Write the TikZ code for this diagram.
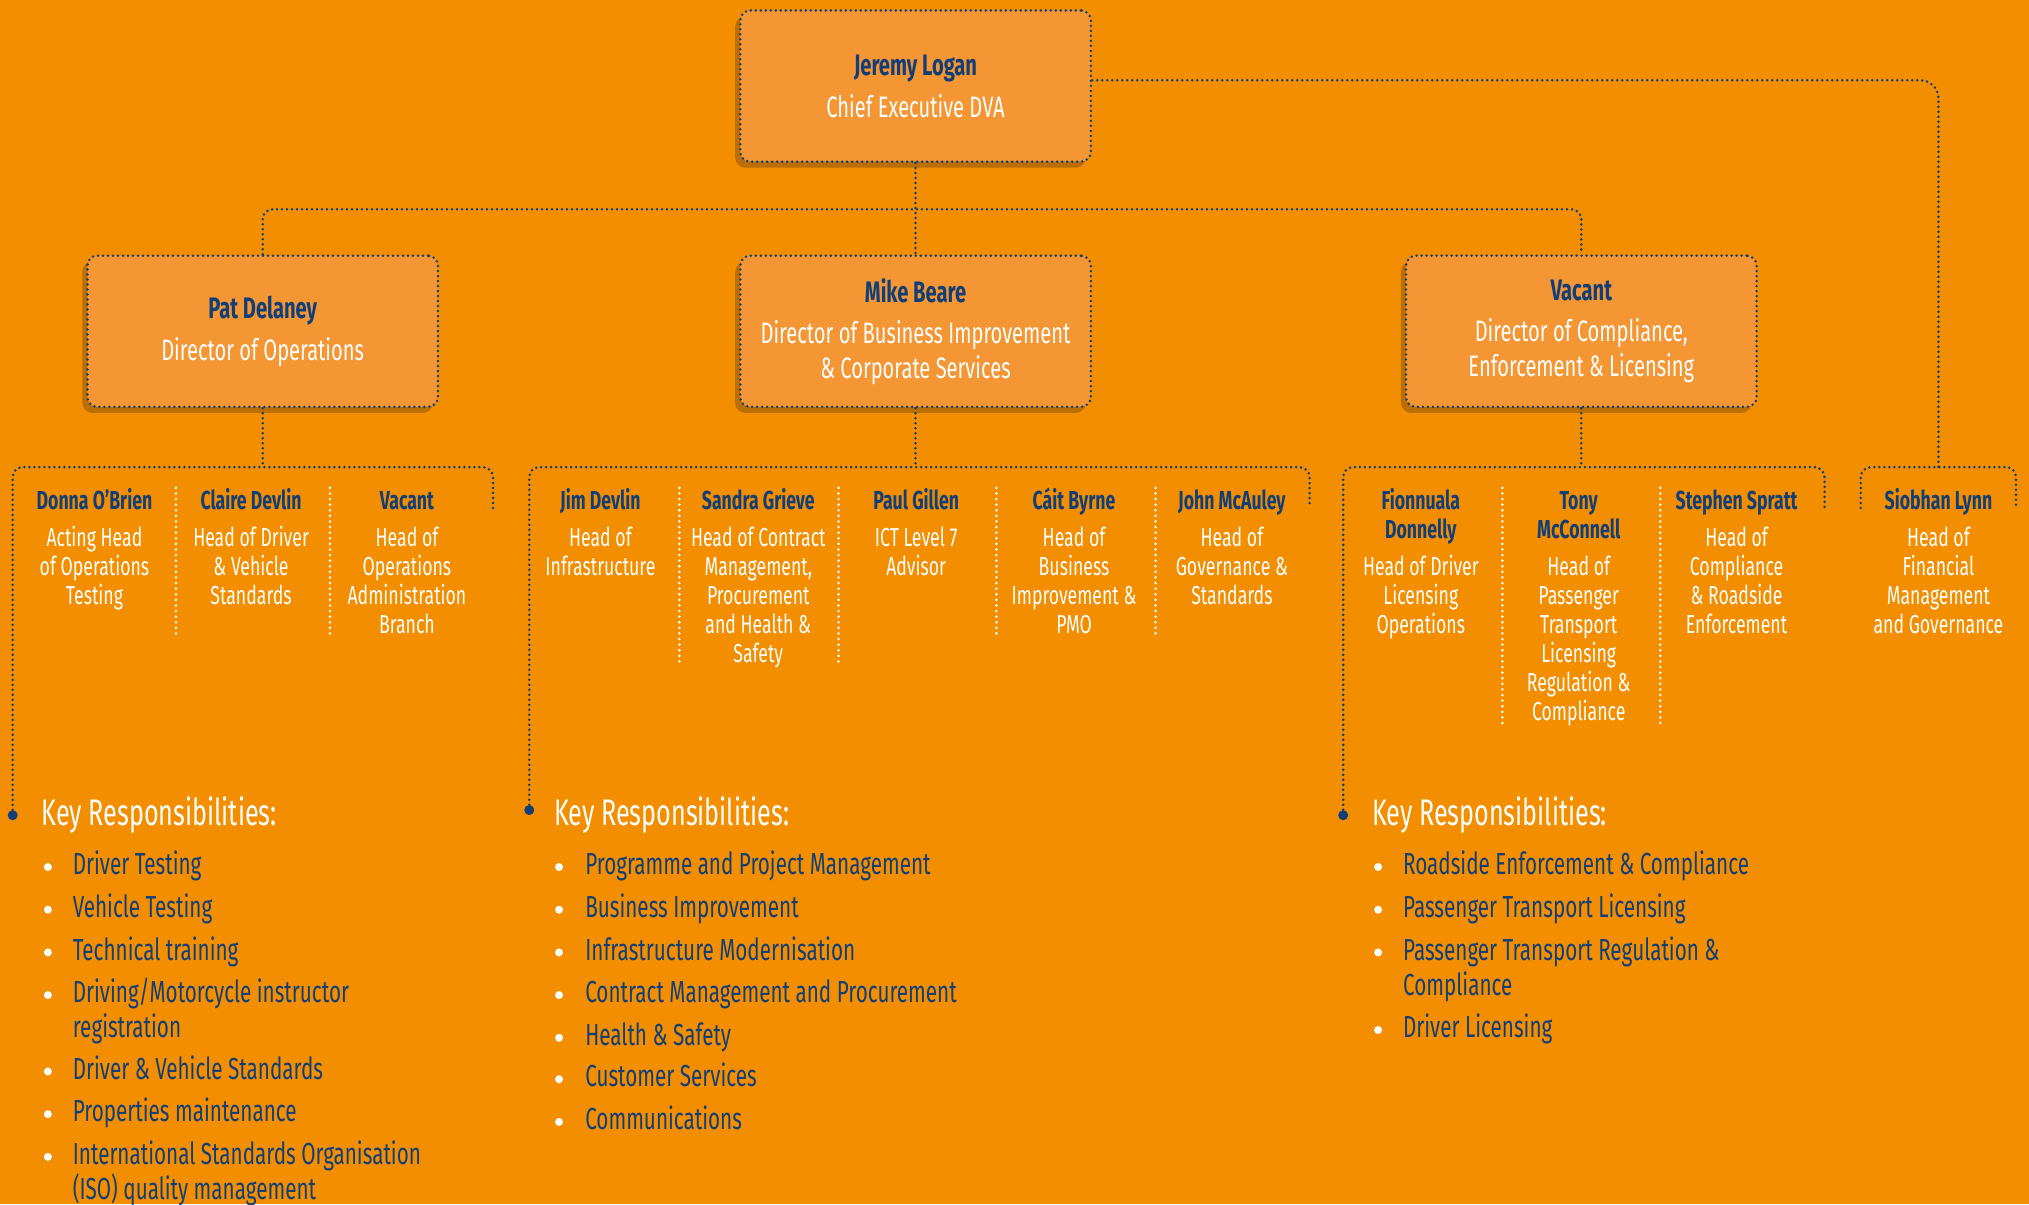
\documentclass[tikz,border=0pt]{standalone}
\usepackage{fontspec}
\setmainfont{Fira Sans}[FakeStretch=0.68]
\usetikzlibrary{shadows}
\definecolor{dvaorange}{HTML}{F28E00}
\definecolor{boxorange}{HTML}{F39633}
\definecolor{dvanavy}{HTML}{123E78}
\newcommand{\pname}[1]{{\bfseries\color{dvanavy}#1}}
\tikzset{
  link/.style={draw=dvanavy, line width=1.4pt, line cap=round, dash pattern=on 0pt off 2.5pt, rounded corners=5pt},
  sepdots/.style={draw=white, line width=1.4pt, line cap=round, dash pattern=on 0pt off 2.8pt},
  dirbox/.style={link, fill=boxorange, minimum width=175.3pt, minimum height=75.6pt, align=center, text=white,
    font=\fontsize{14.8}{17.5}\selectfont, drop shadow={shadow xshift=-2.5pt, shadow yshift=-3pt, opacity=0.22, fill=black}},
  member/.style={anchor=base, text width=78pt, align=flush center, inner sep=0pt, text=white, font=\fontsize{13}{14.5}\selectfont},
  keyhead/.style={anchor=base west, inner sep=0pt, text=white, font=\fontsize{18.5}{20}\selectfont},
  keyitem/.style={anchor=base west, text width=230pt, align=flush left, inner sep=0pt, text=dvanavy, font=\fontsize{15.2}{17.5}\selectfont},
  keydot/.style={circle, fill=dvanavy, inner sep=0pt, minimum size=5pt},
}
\begin{document}
\begin{tikzpicture}[x=0.647pt, y=-0.647pt]
\fill[dvaorange] (0,0) rectangle (1568,930.5);
\useasboundingbox (0,0) rectangle (1568,930.5);

\node[dirbox] (ceo) at (707.5,66.5) {\pname{Jeremy Logan}\\[3.5pt] Chief Executive DVA};
\node[dirbox] (pat) at (203,256) {\pname{Pat Delaney}\\[3.5pt] Director of Operations};
\node[dirbox] (mike) at (707.5,256) {\pname{Mike Beare}\\[3pt] Director of Business Improvement\\ \& Corporate Services};
\node[dirbox] (vacant) at (1222,256) {\pname{Vacant}\\[3pt] Director of Compliance,\\ Enforcement \& Licensing};

\coordinate (bus) at (707.5,161.7);
\draw[link] (pat.north) |- (bus) -| (vacant.north);
\draw[link] (ceo.south) -- (mike.north);
\coordinate (finbar) at (1498,361);
\draw[link, rounded corners=9pt] ([yshift=2.9pt]ceo.east) -| (finbar);

\coordinate (opsbar) at (203,361);
\coordinate (opsend) at (381,392.6);
\node[keydot] (opsdot) at (9.8,630) {};
\draw[link] (pat.south) -- (opsbar);
\draw[link] (opsdot) |- (opsbar) -| (opsend);

\coordinate (corpbar) at (707.5,361);
\coordinate (corpend) at (1012,392.6);
\node[keydot] (corpdot) at (409,626) {};
\draw[link] (mike.south) -- (corpbar);
\draw[link] (corpdot) |- (corpbar) -| (corpend);

\coordinate (cmpbar) at (1222,361);
\coordinate (cmpend) at (1410,392.6);
\node[keydot] (cmpdot) at (1038,630) {};
\draw[link] (vacant.south) -- (cmpbar);
\draw[link] (cmpdot) |- (cmpbar) -| (cmpend);

\coordinate (finL) at (1438,392.6);
\coordinate (finR) at (1558,392.6);
\draw[link] (finL) |- (finbar) -| (finR);

\foreach \x/\b in {136/492, 255/492, 525/515, 648/515, 770/492, 893/492, 1161/560, 1283/560}
  \draw[sepdots] (\x,377) -- (\x,\b);

\node[member] (donna) at (73,394) {\pname{Donna O’Brien}\\[4pt]Acting Head\\of Operations\\Testing};
\node[member] (claire) at (194,394) {\pname{Claire Devlin}\\[4pt]Head of Driver\\\& Vehicle\\Standards};
\node[member] (opsvacant) at (314.5,394) {\pname{Vacant}\\[4pt]Head of\\Operations\\Administration\\Branch};

\node[member] (jim) at (464,394) {\pname{Jim Devlin}\\[4pt]Head of\\Infrastructure};
\node[member] (sandra) at (586,394) {\pname{Sandra Grieve}\\[4pt]Head of Contract\\Management,\\Procurement\\and Health \&\\Safety};
\node[member] (paul) at (708,394) {\pname{Paul Gillen}\\[4pt]ICT Level 7\\Advisor};
\node[member] (cait) at (830,394) {\pname{Cáit Byrne}\\[4pt]Head of\\Business\\Improvement \&\\PMO};
\node[member] (john) at (952,394) {\pname{John McAuley}\\[4pt]Head of\\Governance \&\\Standards};

\node[member] (fionnuala) at (1098,394) {\pname{Fionnuala}\\\pname{Donnelly}\\[4pt]Head of Driver\\Licensing\\Operations};
\node[member] (tony) at (1220,394) {\pname{Tony}\\\pname{McConnell}\\[4pt]Head of\\Passenger\\Transport\\Licensing\\Regulation \&\\Compliance};
\node[member] (stephen) at (1342,394) {\pname{Stephen Spratt}\\[4pt]Head of\\Compliance\\\& Roadside\\Enforcement};
\node[member] (siobhan) at (1498,394) {\pname{Siobhan Lynn}\\[4pt]Head of\\Financial\\Management\\and Governance};

\node[keyhead] (opshead) at (32,637.6) {Key Responsibilities:};
\foreach \y/\t [count=\i] in {676/Driver Testing, 709/Vehicle Testing, 742/Technical training,
    775/{Driving/Motorcycle instructor\\registration}, 834/Driver \& Vehicle Standards,
    867/Properties maintenance, 900/{International Standards Organisation\\(ISO) quality management}} {
  \fill[white] (37,\y-6) circle (2pt);
  \node[keyitem] (opsitem\i) at (56,\y) {\t};
}

\node[keyhead] (corphead) at (428,637.6) {Key Responsibilities:};
\foreach \y/\t [count=\i] in {676/Programme and Project Management, 709/Business Improvement,
    742/Infrastructure Modernisation, 775/Contract Management and Procurement, 808/Health \& Safety,
    840/Customer Services, 873/Communications} {
  \fill[white] (432,\y-6) circle (2pt);
  \node[keyitem] (corpitem\i) at (452,\y) {\t};
}

\node[keyhead] (cmphead) at (1060,637.6) {Key Responsibilities:};
\foreach \y/\t [count=\i] in {676/Roadside Enforcement \& Compliance, 709/Passenger Transport Licensing,
    742/{Passenger Transport Regulation \&\\Compliance}, 802/Driver Licensing} {
  \fill[white] (1065,\y-6) circle (2pt);
  \node[keyitem] (cmpitem\i) at (1084,\y) {\t};
}
\end{tikzpicture}
\end{document}
